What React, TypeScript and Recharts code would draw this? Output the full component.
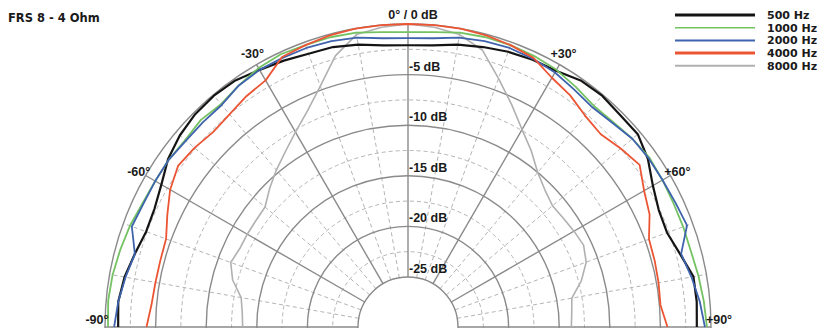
import React from "react";
import { RadarChart, Radar, PolarGrid, PolarAngleAxis, PolarRadiusAxis, Legend } from "recharts";

// measurement angles, -90° .. +90° in 5° steps
const angles = [-90, -85, -80, -75, -70, -65, -60, -55, -50, -45, -40, -35, -30, -25, -20, -15, -10, -5, 0, 5, 10, 15, 20, 25, 30, 35, 40, 45, 50, 55, 60, 65, 70, 75, 80, 85, 90];

// level in dB per angle
const f500 = [-1.3, -1.2, -1.5, -2.0, -2.4, -2.3, -1.8, -1.0, -0.5, -0.2, -0.1, -0.2, -0.6, -0.9, -1.2, -1.3, -1.6, -2.0, -2.1, -2.0, -1.6, -1.3, -1.0, -0.8, -0.7, -0.2, -0.1, -0.3, -0.3, -1.0, -2.0, -2.6, -2.7, -2.1, -1.3, -1.3, -1.4];
const f1000 = [-0.3, -0.2, -0.3, -0.5, -0.7, -1.0, -1.1, -1.1, -1.2, -1.0, -1.2, -0.8, -0.4, -0.2, -0.3, -0.3, -0.4, -0.7, -0.8, -0.7, -0.4, -0.3, -0.3, -0.4, -0.6, -1.0, -1.4, -1.3, -1.0, -0.8, -0.9, -1.0, -1.0, -1.0, -0.8, -0.6, -0.4];
const f2000 = [-0.9, -1.2, -1.6, -2.0, -0.9, -1.1, -1.1, -1.1, -1.3, -1.3, -1.3, -0.8, -0.6, -0.6, -0.6, -0.7, -0.9, -1.3, -1.4, -1.3, -0.9, -0.7, -0.6, -0.7, -0.9, -1.3, -1.6, -1.4, -1.0, -0.9, -0.9, -0.8, -0.6, -2.0, -1.5, -1.0, -0.6];
const f4000 = [-4.1, -4.5, -4.6, -4.6, -4.5, -3.7, -2.8, -2.2, -2.4, -2.7, -2.5, -2.1, -1.8, -0.5, -0.3, -0.1, 0, 0, 0, 0, 0, -0.1, -0.3, -0.6, -1.5, -2.0, -2.7, -3.0, -2.5, -2.0, -3.0, -3.6, -4.6, -4.7, -4.8, -4.9, -4.3];
const f8000 = [-13.6, -13.5, -13.2, -12.0, -11.3, -11.6, -11.6, -11.6, -11.5, -10.6, -9.7, -8.8, -7.7, -6.4, -4.6, -2.2, -0.6, -0.2, 0, -0.2, -0.6, -1.6, -3.8, -5.7, -7.4, -8.7, -10.0, -10.8, -11.3, -11.2, -11.0, -10.8, -11.2, -12.2, -13.5, -13.7, -13.8];

const majorAngles = [-90, -60, -30, 0, 30, 60, 90];
const minorAngles = [-80, -70, -50, -40, -20, -10, 10, 20, 40, 50, 70, 80];
const majorDb = [-25, -20, -15, -10, -5, 0];
const minorDb = [-22.5, -17.5, -12.5, -7.5, -2.5];

const title = "FRS 8 - 4 Ohm";

const legendSeries = [
  { key: "f500", name: "500 Hz", color: "#141414", width: 2.2, legendWidth: 3.2 },
  { key: "f1000", name: "1000 Hz", color: "#74c262", width: 1.8, legendWidth: 1.6 },
  { key: "f2000", name: "2000 Hz", color: "#3f63ad", width: 1.8, legendWidth: 2 },
  { key: "f4000", name: "4000 Hz", color: "#ec5533", width: 1.8, legendWidth: 3 },
  { key: "f8000", name: "8000 Hz", color: "#b0b0b0", width: 1.6, legendWidth: 2 },
];
// back to front
const drawOrder = ["f8000", "f500", "f1000", "f2000", "f4000"];

const rows = angles.map((a, i) => ({
  angle: a,
  f500: f500[i],
  f1000: f1000[i],
  f2000: f2000[i],
  f4000: f4000[i],
  f8000: f8000[i],
}));

const FONT = "'Liberation Sans', Arial, Helvetica, sans-serif";
const LEGEND_FONT = "'DejaVu Sans', Verdana, sans-serif";

// polar frame, shared by the chart and the minor grid
const CX = 408;
const CY = 327;
const INNER = 50;
const OUTER = 303;
const DB_DOMAIN = [-25, 0];
const ANGLE_DOMAIN = [-90, 90];
const dbToRadius = (db: number) => INNER + ((db - DB_DOMAIN[0]) / (DB_DOMAIN[1] - DB_DOMAIN[0])) * (OUTER - INNER);
const degToPolar = (deg: number) => 90 - deg;

// open polyline instead of the closed radar polygon
const OpenLine = (props: any) => {
  const pts = props.points || [];
  const d = pts.map((p: any, i: number) => `${i ? "L" : "M"}${p.x},${p.y}`).join(" ");
  return <path d={d} fill="none" stroke={props.stroke} strokeWidth={props.strokeWidth} strokeLinejoin="round" />;
};

const AngleTick = (p: any) => {
  const v = p.payload?.value;
  const label = v === 0 ? "0° / 0 dB" : `${v > 0 ? "+" : ""}${v}°`;
  const dx = v === 0 ? 5 : 0;
  const dy = Math.abs(v) === 60 ? 4 : v === 0 ? 3 : Math.abs(v) === 90 ? -3 : 0;
  return (
    <text x={p.x + dx} y={p.y + dy} textAnchor="middle" fontSize={12.5} fontWeight="bold" fontFamily={FONT} fill="#1a1a1a">
      {label}
    </text>
  );
};

const DbTick = (p: any) => {
  const v = p.payload?.value;
  if (v === 0) return <g />;
  return (
    <text x={p.x + 1} y={p.y - 4} textAnchor="start" fontSize={12.5} fontWeight="bold" fontFamily={FONT} fill="#1a1a1a">
      {`${v} dB`}
    </text>
  );
};

const LegendBox = () => (
  <svg width={169} height={78}>
    {legendSeries.map((s, i) => {
      const y = 15 + i * 12.7;
      return (
        <g key={s.key}>
          <line x1={5} x2={85} y1={y} y2={y} stroke={s.color} strokeWidth={s.legendWidth} />
          <text x={97} y={y + 4} fontSize={11} fontWeight="bold" fontFamily={LEGEND_FONT} fill="#1a1a1a">
            {s.name}
          </text>
        </g>
      );
    })}
  </svg>
);

export default function App() {
  return (
    <div style={{ position: "absolute", left: 0, top: 0, width: 839, height: 328, overflow: "hidden", background: "#fff", fontFamily: FONT }}>
      <div style={{ position: "absolute", left: 8, top: 12, fontSize: 11.5, lineHeight: "12px", fontWeight: "bold", fontFamily: LEGEND_FONT, color: "#1a1a1a", zIndex: 1 }}>
        {title}
      </div>
      <RadarChart
        width={839}
        height={400}
        data={rows}
        cx={CX}
        cy={CY}
        innerRadius={INNER}
        outerRadius={OUTER}
        startAngle={180}
        endAngle={0}
        margin={{ top: 0, right: 0, bottom: 0, left: 0 }}
      >
        <PolarGrid
          cx={CX}
          cy={CY}
          innerRadius={INNER}
          outerRadius={OUTER}
          gridType="circle"
          polarRadius={minorDb.map(dbToRadius)}
          polarAngles={minorAngles.map(degToPolar)}
          stroke="#b4b4b4"
          strokeWidth={1}
          strokeDasharray="4 3"
        />
        <PolarGrid gridType="circle" stroke="#8a8a8a" strokeWidth={1.4} />
        <PolarAngleAxis dataKey="angle" type="number" domain={ANGLE_DOMAIN} ticks={majorAngles} tickCount={7} tick={<AngleTick />} tickLine={false} axisLine={false} />
        <PolarRadiusAxis type="number" domain={DB_DOMAIN} ticks={majorDb} tickCount={6} angle={90} tick={<DbTick />} axisLine={false} tickLine={false} />
        {drawOrder.map((k) => {
          const s = legendSeries.find((x) => x.key === k)!;
          return (
            <Radar
              key={k}
              name={s.name}
              dataKey={k}
              stroke={s.color}
              strokeWidth={s.width}
              fill="none"
              fillOpacity={0}
              dot={false}
              shape={<OpenLine />}
              isAnimationActive={false}
            />
          );
        })}
        <Legend verticalAlign="top" align="right" layout="vertical" wrapperStyle={{ top: 0, left: 670, width: 169 }} content={() => <LegendBox />} />
      </RadarChart>
    </div>
  );
}
